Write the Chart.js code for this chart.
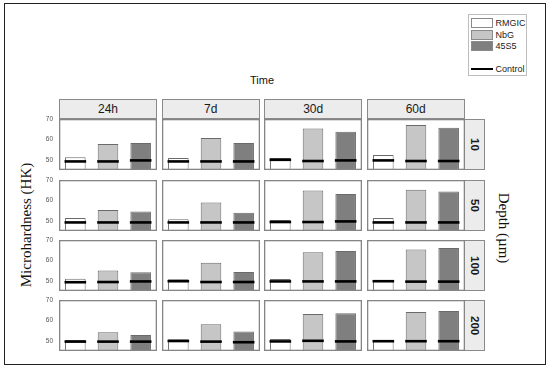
<!DOCTYPE html>
<html><head><meta charset="utf-8">
<script src="https://cdn.jsdelivr.net/npm/chart.js@4"></script>
<style>
html,body{margin:0;padding:0;background:#fff;width:550px;height:368px;overflow:hidden;position:relative;}
#frame{position:absolute;left:3.5px;top:2.5px;width:542px;height:362px;border:1.5px solid #222;box-sizing:border-box;}
canvas{position:absolute;}
.stripTop{position:absolute;height:20px;background:#ececec;border:1px solid #8a8a8a;box-sizing:border-box;font:12px 'Liberation Sans',Arial,sans-serif;color:#1a1a1a;text-align:center;line-height:18px;}
.stripRight{position:absolute;width:21px;background:#ececec;border:1px solid #8a8a8a;box-sizing:border-box;font:bold 11.5px 'Liberation Sans',Arial,sans-serif;color:#1a1a1a;writing-mode:vertical-rl;text-align:center;line-height:19px;}
.title{position:absolute;white-space:nowrap;text-align:center;}
#legend{position:absolute;left:468.4px;top:14px;width:59px;height:62px;border:1px solid #bdbdbd;box-sizing:border-box;}
.lsw{position:absolute;left:1.5px;width:22px;height:10px;border:1px solid #8a8a8a;box-sizing:border-box;}
.ltx{position:absolute;left:26px;font:9px 'Liberation Sans',Arial,sans-serif;color:#222;line-height:10px;}
.lln{position:absolute;left:1.5px;width:22px;height:2px;background:#000;}
</style></head>
<body>
<div id="frame"></div>
<div class="title" style="left:212px;top:73px;width:100px;font:11px 'Liberation Sans',Arial,sans-serif;line-height:14px;color:#111;">Time</div>
<div class="title" style="left:-72.5px;top:215px;width:200px;height:20px;line-height:20px;font:15px 'Liberation Serif','Times New Roman',serif;color:#111;transform:rotate(-90deg);">Microhardness (HK)</div>
<div class="title" style="left:401.7px;top:218px;width:200px;height:20px;line-height:20px;font:15px 'Liberation Serif','Times New Roman',serif;color:#111;transform:rotate(90deg);">Depth (µm)</div>
<div id="legend"></div>
<script>
// ---- data ----
const times = ['24h', '7d', '30d', '60d'];
const depths = ['10', '50', '100', '200'];
const materials = ['RMGIC', 'NbG', '45S5'];
const controlLabel = 'Control';
const yTicks = [50, 60, 70];
const yMin = 45, yMax = 70;

// per depth: one [RMGIC, NbG, 45S5] triple per time (24h, 7d, 30d, 60d)
const hardness10  = [[51.2, 57.7, 58.2], [50.9, 60.7, 58.2], [50.9, 65.4, 63.8], [52.4, 67.1, 65.7]];
const hardness50  = [[51.4, 55.3, 54.6], [50.7, 59.0, 54.0], [50.4, 64.8, 63.1], [51.4, 65.2, 64.4]];
const hardness100 = [[51.0, 55.1, 54.2], [50.7, 58.9, 54.3], [50.9, 64.0, 64.6], [50.4, 65.4, 66.1]];
const hardness200 = [[50.4, 54.2, 52.8], [50.7, 58.1, 54.5], [50.9, 63.1, 63.5], [50.3, 64.1, 64.6]];

const control10  = [[49.2, 49.2, 49.7], [49.2, 49.2, 49.2], [50.0, 49.4, 49.7], [49.7, 49.4, 49.4]];
const control50  = [[49.2, 49.2, 49.2], [49.2, 49.2, 49.2], [49.4, 49.4, 49.7], [49.2, 49.2, 49.2]];
const control100 = [[49.3, 49.4, 49.7], [49.8, 49.4, 49.4], [49.7, 49.7, 49.7], [49.8, 49.6, 49.6]];
const control200 = [[49.6, 49.6, 49.6], [49.9, 49.6, 49.3], [49.7, 50.0, 49.7], [49.8, 49.8, 49.8]];

const hardnessByDepth = [hardness10, hardness50, hardness100, hardness200];
const controlByDepth = [control10, control50, control100, control200];

// ---- style / layout ----
const fills = ['#ffffff', '#c6c6c6', '#7f7f7f'];
const colLeft = [59, 161.7, 264.2, 366.7];
const rowTop = [119.3, 179.5, 239.8, 300];
const panelW = 98, panelH = 51, pad = 8, axisW = 30;
const stripTopY = 99.3;

// legend
const leg = document.getElementById('legend');
const legTops = [2.5, 14.5, 26];
materials.forEach((m, i) => {
  const s = document.createElement('div'); s.className = 'lsw';
  s.style.top = legTops[i] + 'px'; s.style.background = fills[i]; leg.appendChild(s);
  const t = document.createElement('div'); t.className = 'ltx';
  t.style.top = legTops[i] + 'px'; t.textContent = m; leg.appendChild(t);
});
{
  const l = document.createElement('div'); l.className = 'lln'; l.style.top = '53px'; leg.appendChild(l);
  const t = document.createElement('div'); t.className = 'ltx'; t.style.top = '49px'; t.textContent = controlLabel; leg.appendChild(t);
}

// strips
times.forEach((t, c) => {
  const d = document.createElement('div'); d.className = 'stripTop';
  d.style.left = colLeft[c] + 'px'; d.style.top = stripTopY + 'px'; d.style.width = panelW + 'px';
  d.textContent = t; document.body.appendChild(d);
});
depths.forEach((dp, r) => {
  const d = document.createElement('div'); d.className = 'stripRight';
  d.style.left = (colLeft[3] + panelW - 1) + 'px'; d.style.top = rowTop[r] + 'px'; d.style.height = panelH + 'px';
  d.textContent = dp; document.body.appendChild(d);
});

const borderPlugin = {
  id: 'panelBorder',
  afterDraw(chart) {
    const {ctx, chartArea: a} = chart;
    ctx.save();
    ctx.strokeStyle = '#858585'; ctx.lineWidth = 1.3;
    ctx.strokeRect(a.left + 0.65, a.top + 0.65, a.right - a.left - 1.3, a.bottom - a.top - 1.3);
    ctx.restore();
  }
};

for (let r = 0; r < depths.length; r++) {
  for (let c = 0; c < times.length; c++) {
    const showAxis = c === 0;
    const cv = document.createElement('canvas');
    cv.width = panelW + (showAxis ? axisW : 0);
    cv.height = panelH + 2 * pad;
    cv.style.left = (colLeft[c] - (showAxis ? axisW : 0)) + 'px';
    cv.style.top = (rowTop[r] - pad) + 'px';
    document.body.appendChild(cv);
    const yScale = {
      display: showAxis, min: yMin, max: yMax,
      grid: {display: false, drawTicks: true, tickLength: 6}, border: {display: false},
      afterBuildTicks: s => { s.ticks = yTicks.map(v => ({value: v})); },
      ticks: {font: {family: 'Liberation Sans', size: 6.5}, color: '#555', padding: 0}
    };
    if (showAxis) yScale.afterFit = s => { s.width = axisW; };
    new Chart(cv, {
      type: 'bar',
      data: {
        labels: materials,
        datasets: [
          {type: 'line', label: controlLabel, data: controlByDepth[r][c], showLine: false,
           pointStyle: 'line', pointRadius: 10.8, pointHoverRadius: 10.8,
           borderColor: '#000', pointBorderColor: '#000', pointBorderWidth: 2.6, order: 0, clip: false},
          {type: 'bar', label: 'Microhardness', data: hardnessByDepth[r][c], backgroundColor: fills,
           borderColor: '#6a6a6a', borderWidth: 1, barPercentage: 0.63, categoryPercentage: 1, order: 1, clip: 0}
        ]
      },
      options: {
        responsive: false, animation: false, events: [],
        layout: {autoPadding: false, padding: {top: pad, bottom: pad, left: 0, right: 0}},
        plugins: {legend: {display: false}, tooltip: {enabled: false}},
        scales: {
          x: {display: false, offset: true},
          y: yScale
        }
      },
      plugins: [borderPlugin]
    });
  }
}
</script>
</body></html>
